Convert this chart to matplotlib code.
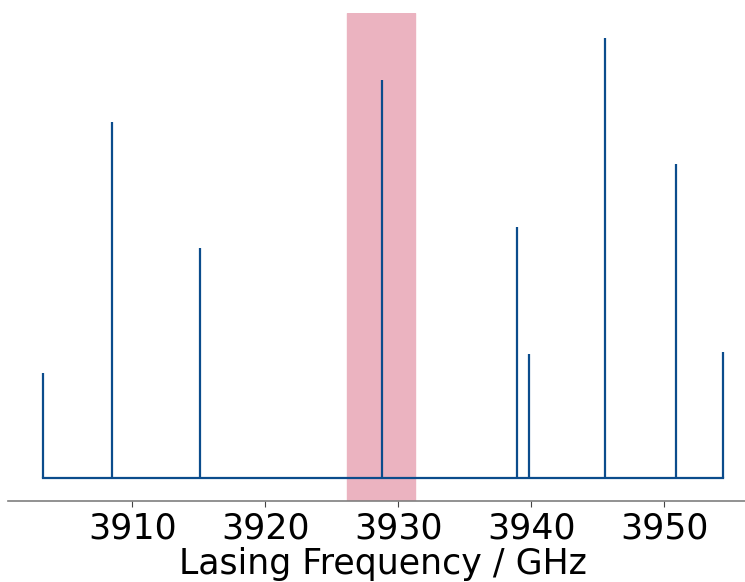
import numpy as np
import matplotlib.pyplot as plt

# Lasing lines (GHz) and their relative intensities
freqs = [3903.3, 3908.45, 3915.05, 3928.75, 3938.9, 3939.8, 3945.5, 3950.85, 3954.4]
intensity = [0.238, 0.809, 0.523, 0.905, 0.571, 0.281, 1.0, 0.714, 0.286]

# Gain window highlighted behind the lines
window = [3926.13, 3931.23]

xticks = [3910, 3920, 3930, 3940, 3950]

line_color = "#0b4c8c"

fig = plt.figure(figsize=(7.45, 5.82), dpi=100)
# axes runs a little past the right edge of the canvas
ax = fig.add_axes([8 / 745, 81 / 582, 750 / 745, 488 / 582])

ax.axvspan(window[0], window[1], color="#ebb3c0", zorder=0)

markers, stems, base = ax.stem(freqs, intensity, linefmt="-", markerfmt=" ",
                               basefmt="-")
plt.setp(stems, color=line_color, linewidth=1.6)
plt.setp(base, color=line_color, linewidth=1.6)

ax.set_xlim(3900.64, 3957.03)
ax.set_ylim(-0.0523, 1.057)

for side in ["top", "left", "right"]:
    ax.spines[side].set_visible(False)
ax.spines["bottom"].set_color("#7f7f7f")
ax.spines["bottom"].set_linewidth(1.2)

ax.set_yticks([])
ax.set_xticks(xticks)
ax.tick_params(axis="x", labelsize=25, length=4, width=0.8, color="#444444")
ax.set_xlabel("Lasing Frequency / GHz", fontsize=25, labelpad=1)

fig.savefig("out.png", dpi=100)
